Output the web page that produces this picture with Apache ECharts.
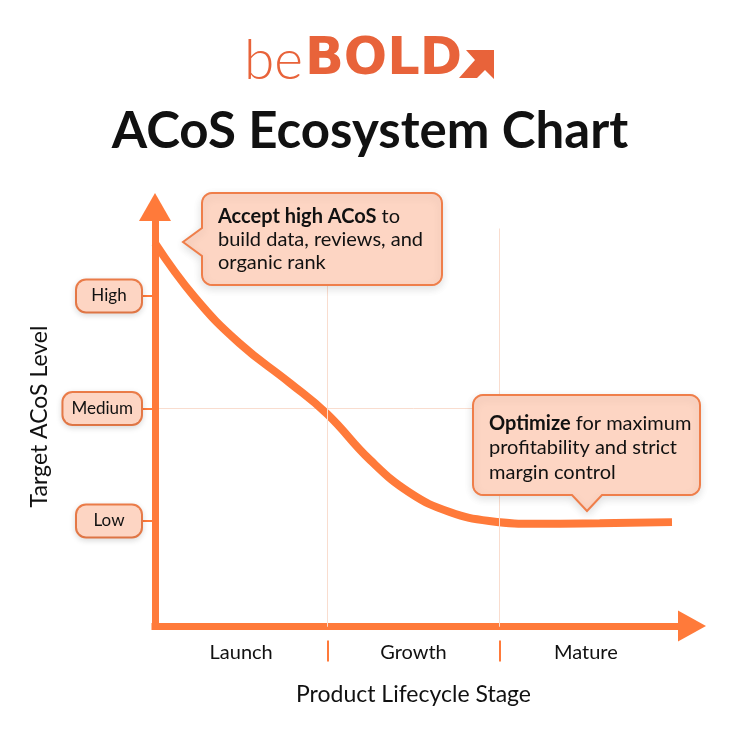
<!DOCTYPE html>
<html>
<head>
<meta charset="utf-8">
<script src="https://cdn.jsdelivr.net/npm/echarts@6/dist/echarts.min.js"></script>
<style>
  html, body { margin: 0; padding: 0; background: #fff; }
  #chart { width: 740px; height: 740px; }
</style>
</head>
<body>
<div id="chart"></div>
<script>
// data
const stages = ['Launch', 'Growth', 'Mature'];
const stageCenters = [0.5, 1.5, 2.5];
const stageBreaks = [1, 2];
const levels = ['Low', 'Medium', 'High'];
const levelValues = [1, 2, 3];
const curveX = [0, 0.23, 0.49, 0.78, 1.0, 1.25, 1.48, 1.71, 1.94, 2.23, 2.58, 3.0];
const curveY = [3.47, 2.99, 2.58, 2.23, 1.95, 1.54, 1.25, 1.08, 1.0, 0.975, 0.98, 0.99];

const ORANGE = '#FF7A3A';
const LOGO = '#E8633A';
const GRID = '#F9DDCF';
const BOX_FILL = '#FDD5C3';
const BOX_LINE = '#EF7E4A';
const FONT = 'Lato';

// rounded box with a pointer, as polygon points
function calloutPoints(x, y, w, h, r, tail) {
  const pts = [];
  const arc = (cx, cy, a0) => {
    for (let i = 0; i <= 6; i++) {
      const a = a0 + i * Math.PI / 12;
      pts.push([cx + r * Math.cos(a), cy + r * Math.sin(a)]);
    }
  };
  arc(x + r, y + r, Math.PI);
  arc(x + w - r, y + r, 1.5 * Math.PI);
  arc(x + w - r, y + h - r, 0);
  if (tail.side === 'bottom') {
    pts.push([tail.b1, y + h], [tail.tx, tail.ty], [tail.b0, y + h]);
  }
  arc(x + r, y + h - r, 0.5 * Math.PI);
  if (tail.side === 'left') {
    pts.push([x, tail.b1], [tail.tx, tail.ty], [x, tail.b0]);
  }
  return pts;
}

const boxStyle = {
  fill: BOX_FILL,
  stroke: BOX_LINE,
  lineWidth: 2,
  shadowBlur: 8,
  shadowOffsetY: 3,
  shadowColor: 'rgba(0,0,0,0.12)'
};

const chart = echarts.init(document.getElementById('chart'));
chart.setOption({
  backgroundColor: '#fff',
  animation: false,
  grid: [
    { left: 155, right: 68, top: 228.5, bottom: 106.5 },
    { left: 155, right: 48, top: 207, bottom: 114 }
  ],
  xAxis: [
    {
      gridIndex: 0,
      type: 'value',
      min: 0,
      max: 3,
      offset: 7,
      axisLine: { show: false, onZero: false },
      axisTick: {
        show: true,
        customValues: stageBreaks,
        length: 21,
        lineStyle: { color: ORANGE, width: 2 }
      },
      axisLabel: {
        customValues: stageCenters,
        formatter: v => stages[Math.floor(v)],
        margin: 2,
        fontSize: 20,
        fontFamily: FONT,
        color: '#111'
      },
      splitLine: { show: false },
      name: 'Product Lifecycle Stage',
      nameLocation: 'middle',
      nameGap: 43,
      nameTextStyle: { fontSize: 23, fontFamily: FONT, color: '#111' }
    },
    {
      gridIndex: 1,
      type: 'value',
      min: 0,
      max: 1,
      axisLine: {
        show: true,
        onZero: false,
        symbol: ['none', 'triangle'],
        symbolSize: [31, 28],
        lineStyle: { color: ORANGE, width: 7, cap: 'square' }
      },
      axisTick: { show: false },
      axisLabel: { show: false },
      splitLine: { show: false }
    }
  ],
  yAxis: [
    {
      gridIndex: 0,
      type: 'value',
      min: 0,
      max: 3.6,
      interval: 1,
      axisLine: { show: false, onZero: false },
      axisTick: {
        show: true,
        customValues: levelValues,
        length: 14,
        lineStyle: { color: ORANGE, width: 2 }
      },
      axisLabel: {
        customValues: levelValues,
        margin: 14,
        formatter: v => {
          const name = levels[levelValues.indexOf(v)];
          return name === 'Medium' ? '{m|' + name + '}' : '{s|' + name + '}';
        },
        rich: {
          s: {
            width: 48, align: 'center', fontSize: 17, fontFamily: FONT, color: '#111',
            backgroundColor: BOX_FILL, borderColor: BOX_LINE, borderWidth: 2, borderRadius: 9,
            padding: [7, 8, 7, 8],
            shadowBlur: 6, shadowOffsetY: 2, shadowColor: 'rgba(0,0,0,0.12)'
          },
          m: {
            fontSize: 17, fontFamily: FONT, color: '#111',
            backgroundColor: BOX_FILL, borderColor: BOX_LINE, borderWidth: 2, borderRadius: 9,
            padding: [7, 8, 7, 8],
            shadowBlur: 6, shadowOffsetY: 2, shadowColor: 'rgba(0,0,0,0.12)'
          }
        }
      },
      splitLine: {
        show: true,
        showMinLine: false,
        showMaxLine: false,
        lineStyle: { color: GRID, width: 1 }
      }
    },
    {
      gridIndex: 1,
      type: 'value',
      min: 0,
      max: 1,
      axisLine: {
        show: true,
        onZero: false,
        symbol: ['none', 'triangle'],
        symbolSize: [32, 28],
        lineStyle: { color: ORANGE, width: 7, cap: 'square' }
      },
      axisTick: { show: false },
      axisLabel: { show: false },
      splitLine: { show: false },
      name: 'Target ACoS Level',
      nameLocation: 'middle',
      nameGap: 104,
      nameRotate: 90,
      nameTextStyle: { fontSize: 23, fontFamily: FONT, color: '#111' }
    }
  ],
  series: [
    {
      type: 'line',
      xAxisIndex: 0,
      yAxisIndex: 0,
      data: [],
      z: 1,
      markLine: {
        silent: true,
        symbol: 'none',
        label: { show: false },
        lineStyle: { color: GRID, width: 1, type: 'solid' },
        data: stageBreaks.map(b => [{ coord: [b, 0.06] }, { coord: [b, 3.6] }])
      }
    },
    {
      type: 'line',
      xAxisIndex: 0,
      yAxisIndex: 0,
      data: curveX.map((x, i) => [x, curveY[i]]),
      smooth: 0.45,
      symbol: 'none',
      z: 3,
      lineStyle: { color: ORANGE, width: 8, cap: 'butt' }
    }
  ],
  graphic: [
    // logo
    {
      type: 'text', x: 244, y: 61,
      style: { text: 'be', fontSize: 55, fontWeight: 300, fontFamily: FONT, fill: LOGO, verticalAlign: 'middle' }
    },
    {
      type: 'text', x: 305, y: 61,
      style: { text: 'BOLD', fontSize: 51, fontWeight: 'bold', fontFamily: 'DejaVu Sans', fill: LOGO, verticalAlign: 'middle' }
    },
    {
      type: 'polygon',
      shape: { points: [[494, 50], [494, 79], [485, 70], [477, 78], [459, 78], [475, 60], [466, 50]] },
      style: { fill: LOGO }
    },
    // title
    {
      type: 'text', x: 370, y: 132,
      style: {
        text: 'ACoS Ecosystem Chart', fontSize: 51, fontWeight: 'bold', fontFamily: FONT,
        fill: '#111', align: 'center', verticalAlign: 'middle'
      }
    },
    // callout 1
    {
      type: 'polygon', z: 10,
      shape: { points: calloutPoints(202, 193, 240, 92, 10, { side: 'left', b0: 228, b1: 256, tx: 183, ty: 242 }) },
      style: boxStyle
    },
    {
      type: 'text', z: 11, x: 218, y: 205,
      style: {
        text: '{b|Accept high ACoS} to\nbuild data, reviews, and\norganic rank',
        fontSize: 20, lineHeight: 23, fontFamily: FONT, fill: '#111', verticalAlign: 'top',
        rich: { b: { fontSize: 20, lineHeight: 23, fontWeight: 'bold', fontFamily: FONT, fill: '#111' } }
      }
    },
    // callout 2
    {
      type: 'polygon', z: 10,
      shape: { points: calloutPoints(473, 395, 227, 100, 10, { side: 'bottom', b0: 572, b1: 602, tx: 587, ty: 511 }) },
      style: boxStyle
    },
    {
      type: 'text', z: 11, x: 489, y: 411,
      style: {
        text: '{b|Optimize} for maximum\nprofitability and strict\nmargin control',
        fontSize: 20, lineHeight: 24.5, fontFamily: FONT, fill: '#111', verticalAlign: 'top',
        rich: { b: { fontSize: 20, lineHeight: 24.5, fontWeight: 'bold', fontFamily: FONT, fill: '#111' } }
      }
    }
  ]
});
</script>
</body>
</html>
